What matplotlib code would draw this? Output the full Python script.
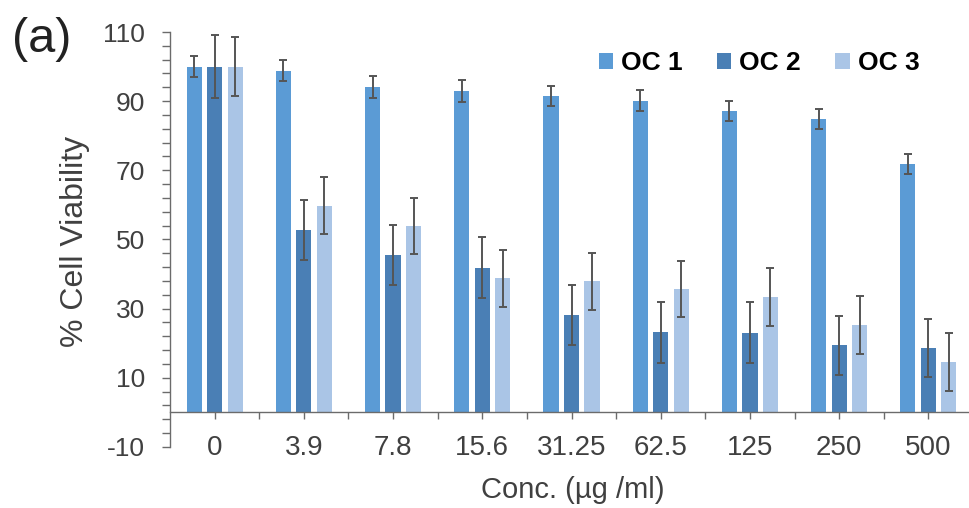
import matplotlib
matplotlib.use("Agg")
import matplotlib.pyplot as plt
from matplotlib.patches import Patch
from matplotlib.ticker import FixedLocator
import numpy as np

plt.rcParams["font.family"] = ["Liberation Sans", "DejaVu Sans"]
plt.rcParams["axes.unicode_minus"] = False

# ── Data ──────────────────────────────────────────────────────────────────────
CONC = ["0", "3.9", "7.8", "15.6", "31.25", "62.5", "125", "250", "500"]
SERIES = ["OC 1", "OC 2", "OC 3"]

oc1 = [100.0, 98.8, 94.2, 92.9, 91.5, 90.1, 87.2, 84.9, 71.9]
oc2 = [100.0, 52.8, 45.5, 41.9, 28.2, 23.2, 23.1, 19.4, 18.6]
oc3 = [100.0, 59.8, 53.9, 38.8, 37.9, 35.7, 33.5, 25.3, 14.6]

oc1_err = [3.0, 3.0, 3.2, 3.2, 3.0, 3.0, 2.9, 2.9, 2.9]
oc2_err = [9.0, 8.7, 8.7, 8.8, 8.6, 8.8, 8.7, 8.6, 8.5]
oc3_err = [8.5, 8.2, 8.2, 8.3, 8.3, 8.2, 8.4, 8.3, 8.3]

COLORS = ["#5b9bd5", "#4a7fb5", "#aac5e6"]
TXT = "#404040"
AXC = "#6b6b6b"

# ── Plot ──────────────────────────────────────────────────────────────────────
fig = plt.figure(figsize=(9.69, 5.08), dpi=100)
ax = fig.add_axes([170 / 969, 1 - 447 / 508, 803 / 969, 415 / 508])

x = np.arange(len(CONC))
step, width = 0.23, 0.17
for i, (vals, errs) in enumerate(zip([oc1, oc2, oc3], [oc1_err, oc2_err, oc3_err])):
    ax.bar(x + (i - 1) * step, vals, width, color=COLORS[i], zorder=2)
    ax.errorbar(x + (i - 1) * step, vals, yerr=errs, fmt="none",
                ecolor="#555555", elinewidth=1.4, capsize=2.7, capthick=1.4,
                zorder=3)

ax.set_xlim(-0.5, len(CONC) - 0.5)
ax.set_ylim(-10, 110)

# y axis
ax.set_yticks(np.arange(-10, 111, 20))
ax.yaxis.set_minor_locator(FixedLocator(np.arange(-10, 111, 4)))
ax.tick_params(axis="y", which="major", length=6, width=1, color=AXC,
               labelsize=19, labelcolor=TXT, pad=12)
ax.tick_params(axis="y", which="minor", length=6, width=1, color=AXC)

# x axis sits at zero, labels pushed down below it
ax.spines["bottom"].set_position(("data", 0))
ax.set_xticks(x)
ax.set_xticklabels(CONC)
ax.xaxis.set_minor_locator(FixedLocator(x[:-1] + 0.5))
ax.tick_params(axis="x", which="both", length=5, width=1, color=AXC,
               labelsize=20, labelcolor=TXT, pad=11)

for s in ["top", "right"]:
    ax.spines[s].set_visible(False)
for s in ["left", "bottom"]:
    ax.spines[s].set_color(AXC)
    ax.spines[s].set_linewidth(1)

fig.text(573 / 969, 1 - 490 / 508, "Conc. (µg /ml)", fontsize=21,
         color=TXT, ha="center", va="center")
fig.text(75 / 969, 1 - 241 / 508, "% Cell Viability", fontsize=23,
         color=TXT, ha="center", va="center", rotation=90)
fig.text(12 / 969, 1 - 40 / 508, "(a)", fontsize=35, color="#222222",
         ha="left", va="center")

handles = [Patch(facecolor=c, edgecolor="none") for c in COLORS]
fig.legend(handles, SERIES, loc="center", bbox_to_anchor=(759 / 969, 1 - 63 / 508),
           ncol=3, frameon=False, prop={"weight": "bold", "size": 19},
           handlelength=0.55, handleheight=0.55, handletextpad=0.3,
           columnspacing=1.3, borderpad=0)

plt.savefig("out.png", dpi=100)
